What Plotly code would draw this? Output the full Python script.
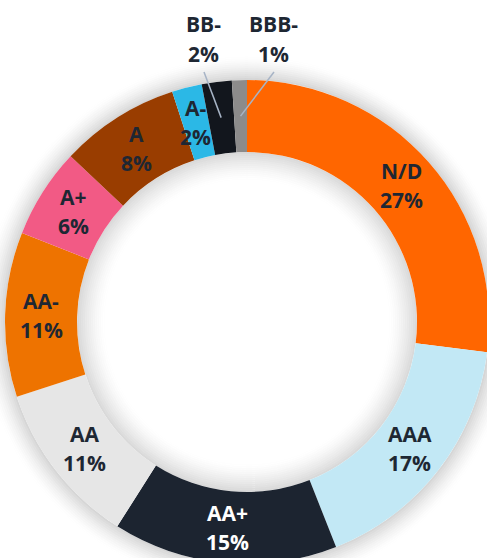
import math
import plotly.graph_objects as go

# ---- data ----
labels = ["N/D", "AAA", "AA+", "AA", "AA-", "A+", "A", "A-", "BB-", "BBB-"]
values = [27, 17, 15, 11, 11, 6, 8, 2, 2, 1]
colors = ["#FF6600", "#C2E8F5", "#1C2430", "#E6E6E6", "#EE7300",
          "#F25A85", "#993D00", "#2BB8E6", "#12161D", "#8C8B8B"]
text_colors = ["#1E2733"] * 10
text_colors[2] = "#FFFFFF"
outside = {"BB-": (203, 39), "BBB-": (273, 39)}   # label centres (px) for small slices

# ---- layout geometry (px) ----
W, H = 495, 572
cx, cy = 247, 322
R_OUT, R_IN = 242, 170
R_MID = (R_OUT + R_IN) / 2
LINE_GAP = 29


def px(x):
    return x / W


def py(y):
    return 1 - y / H


fig = go.Figure()
fig.add_trace(go.Pie(
    labels=labels, values=values, sort=False, direction="clockwise",
    marker=dict(colors=colors, line=dict(width=0)),
    hole=R_IN / R_OUT, textinfo="none", hoverinfo="label+percent",
    showlegend=False,
    domain=dict(x=[px(cx - R_OUT), px(cx + R_OUT)],
                y=[py(cy + R_OUT), py(cy - R_OUT)]),
))

shapes = []


def ring(r, a):
    return dict(type="circle", xref="paper", yref="paper", layer="below",
                x0=px(cx - r), x1=px(cx + r), y0=py(cy + r), y1=py(cy - r),
                line=dict(color=f"rgba(0,0,0,{a:.4f})", width=2),
                fillcolor="rgba(0,0,0,0)")


# outer soft shadow
n = 12
for i in range(n):
    shapes.append(ring(R_OUT + 1 + i * 2, 0.16 * (1 - i / n) ** 1.6))
# inner soft shadow
n = 14
for i in range(n):
    shapes.append(ring(R_IN - 1 - i * 2, 0.15 * (1 - i / n) ** 1.5))

annotations = []
total = sum(values)
cum = 0
for lab, v, tc in zip(labels, values, text_colors):
    mid = (cum + v / 2) / total * 2 * math.pi
    cum += v
    mx = cx + R_MID * math.sin(mid)
    my = cy - R_MID * math.cos(mid)
    lines = [lab, f"{round(v / total * 100)}%"]
    font = dict(family="Open Sans", size=21, color=tc, weight="bold")
    if lab in outside:
        lx, ly = outside[lab]
        shapes.append(dict(type="line", xref="paper", yref="paper", layer="above",
                           x0=px(lx + 1), y0=py(ly + 33), x1=px(mx), y1=py(my),
                           line=dict(color="#A7B4C6", width=1.5)))
    else:
        lx, ly = mx, my
    for k, t in enumerate(lines):
        annotations.append(dict(x=px(lx), y=py(ly + (k - 0.5) * LINE_GAP),
                                xref="paper", yref="paper",
                                xanchor="center", yanchor="middle",
                                text=t, showarrow=False, font=font))

fig.update_layout(
    width=W, height=H, margin=dict(l=0, r=0, t=0, b=0),
    paper_bgcolor="white", plot_bgcolor="white",
    shapes=shapes, annotations=annotations,
)

fig.write_html("out.html", post_script=(
    "document.documentElement.style.overflow='hidden';"
    "document.body.style.overflow='hidden';document.body.style.margin='0';"))
